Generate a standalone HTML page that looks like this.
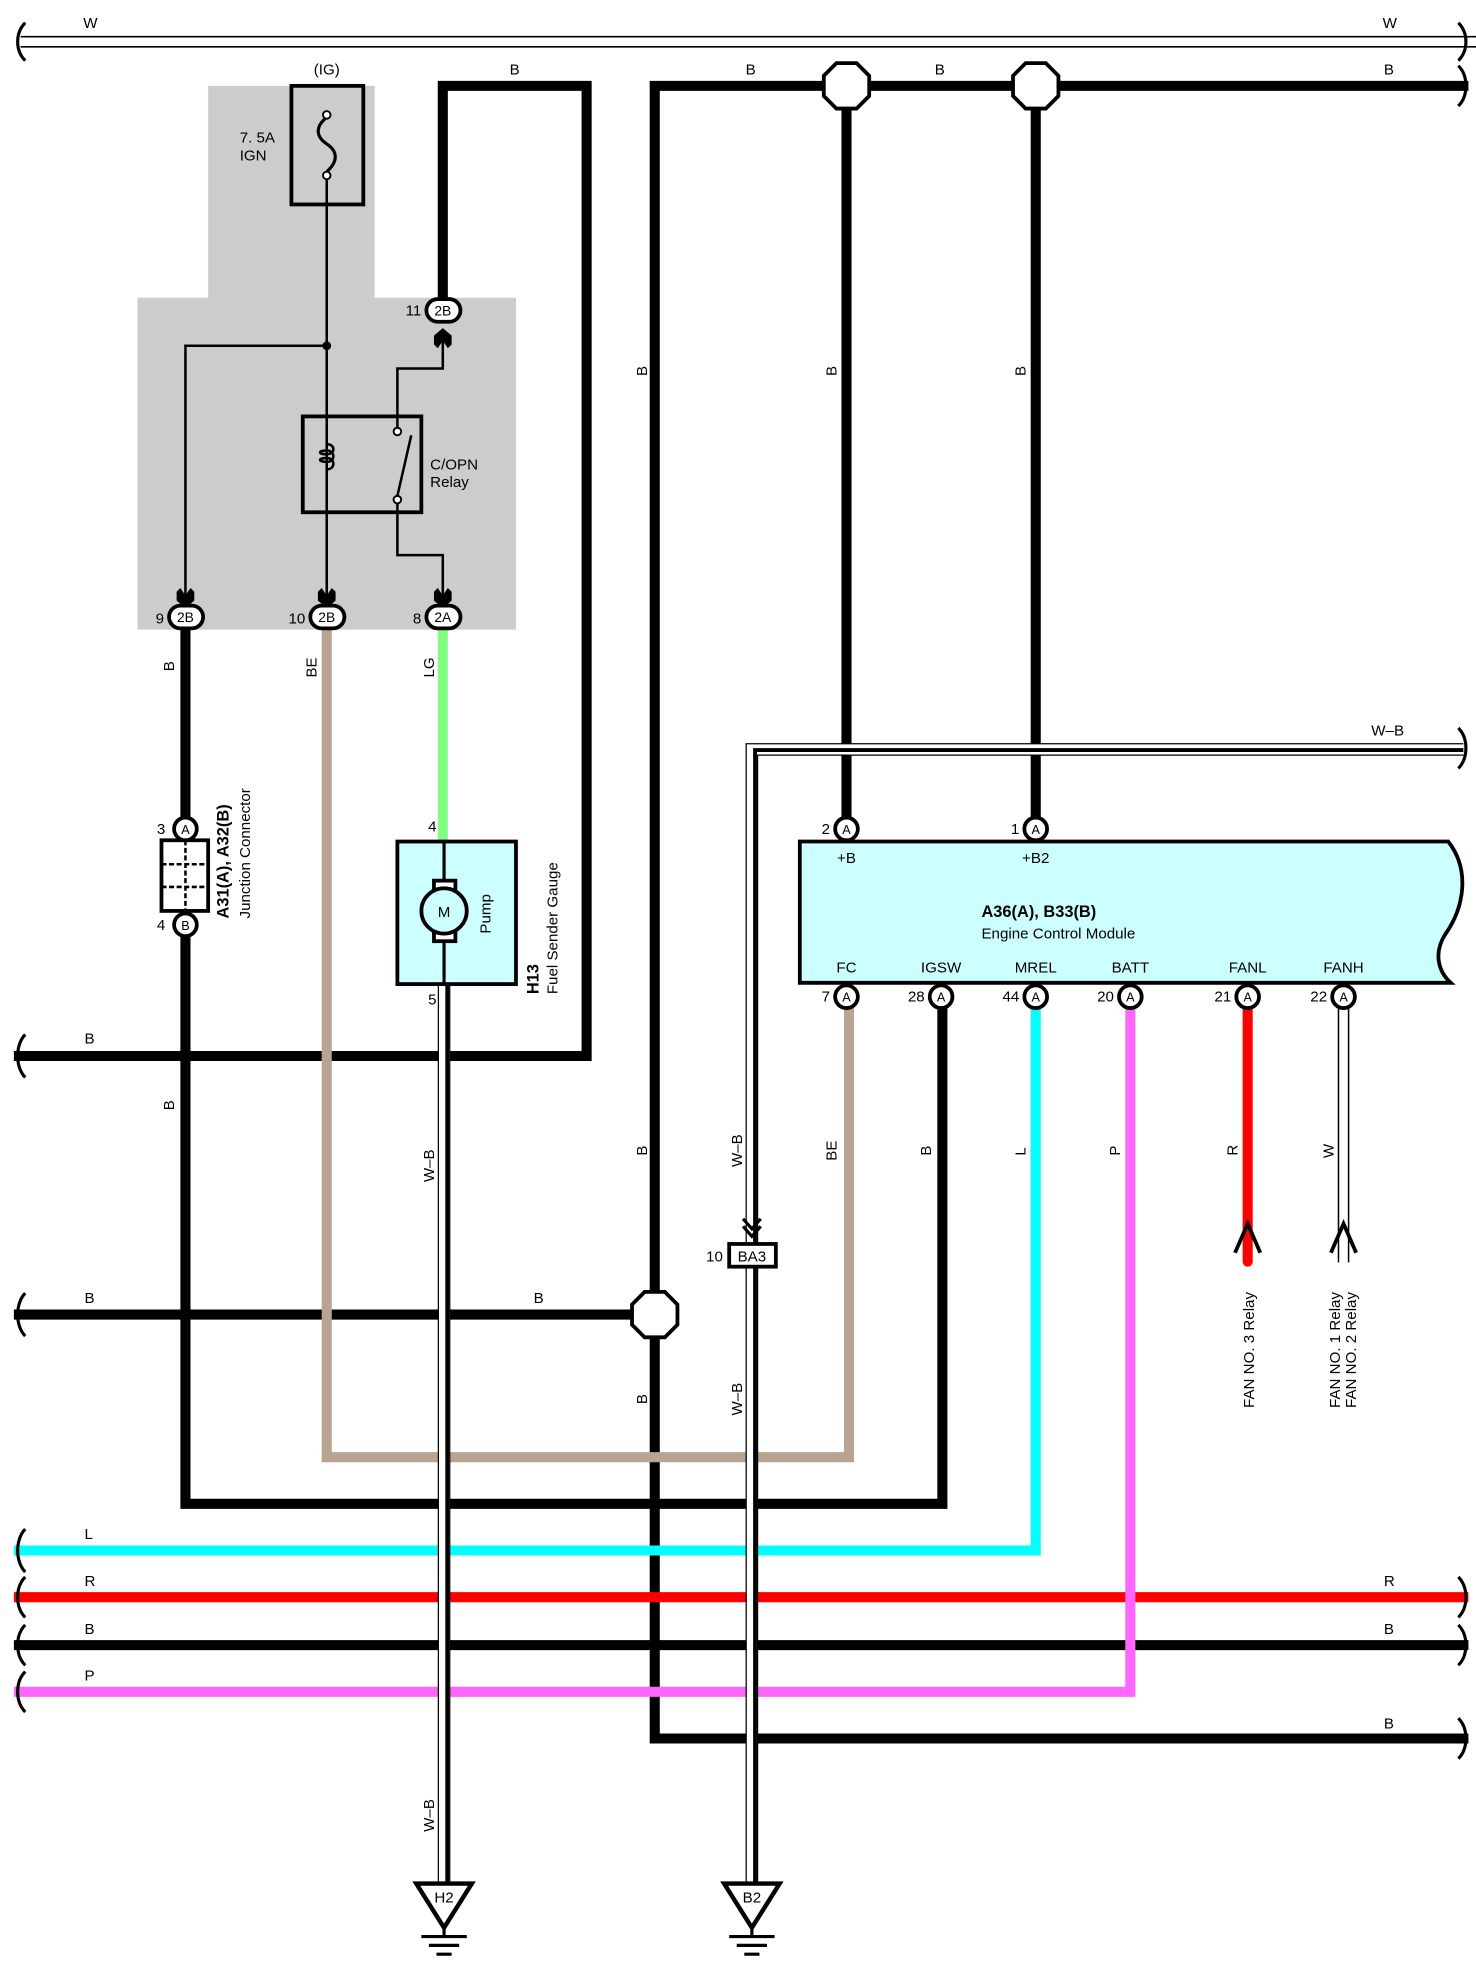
<!DOCTYPE html>
<html><head><meta charset="utf-8"><style>
html,body{margin:0;padding:0;background:#fff}
svg{display:block}
text{font-family:"Liberation Sans",sans-serif;fill:#000}
</style></head><body>
<svg width="1476" height="1977" viewBox="0 0 1170 1567" xmlns="http://www.w3.org/2000/svg">
<rect width="1170" height="1567" fill="#fff"/>
<!-- gray relay block -->
<path d="M165 68H297V236H409V499H109V236H165Z" fill="#cccccc"/>

<g fill="none" stroke-linejoin="miter" stroke-linecap="square">
<!-- top W -->
<line x1="17" y1="29" x2="1170" y2="29" stroke="#000" stroke-width="1.3"/>
<line x1="17" y1="37" x2="1170" y2="37" stroke="#000" stroke-width="1.3"/>
<!-- B loop from 11 -->
<path d="M351 240V68H465V837H15" stroke="#000" stroke-width="8"/>
<!-- big B main -->
<path d="M1160 68H519V1378H1160" stroke="#000" stroke-width="8"/>
<path d="M671 68V650M821 68V650" stroke="#000" stroke-width="8"/>
<path d="M15 1042H519" stroke="#000" stroke-width="8"/>
<!-- B from 9 -->
<path d="M147 495V650M147 740V1192H747V798" stroke="#000" stroke-width="8"/>
<!-- BE -->
<path d="M259 495V1155H673V798" stroke="#b8a490" stroke-width="8"/>
<!-- LG -->
<path d="M351 495V664" stroke="#80ff80" stroke-width="8"/>
<!-- L -->
<path d="M821 798V1229H15" stroke="#00ffff" stroke-width="8"/>
<!-- R -->
<path d="M989 798V1000" stroke="#ff0000" stroke-width="8" stroke-linecap="round"/>
<path d="M15 1266H1160" stroke="#ff0000" stroke-width="8"/>
<!-- B bottom -->
<path d="M15 1304H1160" stroke="#000" stroke-width="8"/>
<!-- P -->
<path d="M15 1341H896V798" stroke="#ff66ff" stroke-width="8"/>
<!-- W FANH -->
<path d="M1061 800V1000M1069 800V1000" stroke="#000" stroke-width="1.2"/>
<!-- W-B pump -->
<path d="M352 780V1492" stroke="#000" stroke-width="10" stroke-linecap="butt"/>
<path d="M352 780V1492" stroke="#fff" stroke-width="8" stroke-linecap="butt"/>
<path d="M354.5 780V1492" stroke="#000" stroke-width="3" stroke-linecap="butt"/>
<!-- W-B ECM ground -->
<path d="M1160 594H596V1492" stroke="#000" stroke-width="10" stroke-linecap="butt"/>
<path d="M1160 594H596V1492" stroke="#fff" stroke-width="8" stroke-linecap="butt"/>
<path d="M1160 594.5H598.5V1492" stroke="#000" stroke-width="3" stroke-linecap="butt"/>
</g>
<!-- braces -->
<g fill="none" stroke="#000" stroke-width="2.5">
<path d="M20 18C12 26 12 40 20 48"/>
<path d="M20 820C12 828 12 846 20 854"/>
<path d="M20 1025C12 1033 12 1051 20 1059"/>
<path d="M20 1212C12 1220 12 1238 20 1246"/>
<path d="M20 1250C12 1258 12 1274 20 1282"/>
<path d="M20 1288C12 1296 12 1312 20 1320"/>
<path d="M20 1325C12 1333 12 1349 20 1357"/>
<path d="M1156 18C1164 26 1164 40 1156 48"/>
<path d="M1156 52C1164 60 1164 76 1156 84"/>
<path d="M1156 577C1164 585 1164 601 1156 609"/>
<path d="M1156 1250C1164 1258 1164 1274 1156 1282"/>
<path d="M1156 1288C1164 1296 1164 1312 1156 1320"/>
<path d="M1156 1362C1164 1370 1164 1386 1156 1394"/>
</g>
<!-- octagons -->
<g fill="#fff" stroke="#000" stroke-width="3">
<polygon points="663,50 679,50 689,60 689,76 679,86 663,86 653,76 653,60"/>
<polygon points="813,50 829,50 839,60 839,76 829,86 813,86 803,76 803,60"/>
<polygon points="511,1024 527,1024 537,1034 537,1050 527,1060 511,1060 501,1050 501,1034"/>
</g>
<!-- fuse -->
<rect x="231" y="68" width="57" height="94" fill="none" stroke="#000" stroke-width="3"/>
<path d="M259 93C250 100 250 108 259 114C268 120 268 128 259 136" fill="none" stroke="#000" stroke-width="2.5"/>
<circle cx="259" cy="91" r="3" fill="#fff" stroke="#000" stroke-width="1.5"/>
<circle cx="259" cy="139" r="3" fill="#fff" stroke="#000" stroke-width="1.5"/>
<!-- relay internal lines -->
<g fill="none" stroke="#000" stroke-width="2">
<path d="M259 142V480"/>
<path d="M259 274H147V480"/>
<path d="M315 342V292H351V268"/>
<path d="M315 393V440H351V480"/>
<path d="M315 393L326 345"/>
</g>
<circle cx="259" cy="274" r="3.5" fill="#000"/>
<rect x="240" y="330" width="94" height="76" fill="none" stroke="#000" stroke-width="3"/>
<path d="M259 352C266 352 266 360 259 360C252 360 252 357 259 357C266 357 266 366 259 366C252 366 252 363 259 363C266 363 266 372 259 372" fill="none" stroke="#000" stroke-width="2"/>
<circle cx="315" cy="342" r="3" fill="#fff" stroke="#000" stroke-width="1.5"/>
<circle cx="315" cy="396" r="3" fill="#fff" stroke="#000" stroke-width="1.5"/>
<!-- arrowheads relay -->
<g fill="#000">
<path d="M143 466L147 472L151 466L154 469V476L147 482L140 476V469Z"/>
<path d="M255 466L259 472L263 466L266 469V476L259 482L252 476V469Z"/>
<path d="M347 466L351 472L355 466L358 469V476L351 482L344 476V469Z"/>
<path d="M347 276L351 270L355 276L358 273V266L351 260L344 266V273Z"/>
</g>
<!-- oval connectors -->
<g fill="#fff" stroke="#000" stroke-width="3">
<rect x="338" y="237" width="27" height="18" rx="9"/>
<rect x="134" y="480" width="27" height="18" rx="9"/>
<rect x="246" y="480" width="27" height="18" rx="9"/>
<rect x="338" y="480" width="27" height="18" rx="9"/>
</g>
<g font-size="11" text-anchor="middle">
<text x="351" y="250">2B</text><text x="147" y="493">2B</text><text x="259" y="493">2B</text><text x="351" y="493">2A</text>
</g>
<g font-size="12" text-anchor="end">
<text x="334" y="250">11</text><text x="130" y="494">9</text><text x="242" y="494">10</text><text x="334" y="494">8</text>
</g>
<text x="259" y="59" font-size="12" text-anchor="middle">(IG)</text>
<text x="190" y="113" font-size="12">7. 5A</text>
<text x="190" y="127" font-size="12">IGN</text>
<text x="341" y="372" font-size="12">C/OPN</text>
<text x="341" y="386" font-size="12">Relay</text>
<!-- junction connector -->
<rect x="128" y="666" width="37" height="56" fill="#fff" stroke="#000" stroke-width="3"/>
<path d="M147 666V722M128 685H165M128 703H165" stroke="#000" stroke-width="2" stroke-dasharray="4 2"/>
<circle cx="147" cy="657" r="9" fill="#fff" stroke="#000" stroke-width="3"/>
<circle cx="147" cy="733" r="9" fill="#fff" stroke="#000" stroke-width="3"/>
<text x="147" y="661" font-size="10" text-anchor="middle">A</text>
<text x="147" y="737" font-size="10" text-anchor="middle">B</text>
<text x="131" y="661" font-size="12" text-anchor="end">3</text>
<text x="131" y="737" font-size="12" text-anchor="end">4</text>
<text transform="translate(181,728) rotate(-90)" font-size="13" font-weight="bold">A31(A), A32(B)</text>
<text transform="translate(198,728) rotate(-90)" font-size="12">Junction Connector</text>
<!-- pump -->
<rect x="315" y="667" width="94" height="113" fill="#ccffff" stroke="#000" stroke-width="3"/>
<path d="M352 667V780" stroke="#000" stroke-width="2.5"/>
<rect x="344" y="698" width="17" height="48" fill="#fff" stroke="#000" stroke-width="3"/>
<circle cx="352" cy="722" r="18" fill="#ccffff" stroke="#000" stroke-width="3"/>
<text x="352" y="727" font-size="12" text-anchor="middle">M</text>
<text transform="translate(389,740) rotate(-90)" font-size="12">Pump</text>
<text transform="translate(427,788) rotate(-90)" font-size="13" font-weight="bold">H13</text>
<text transform="translate(442,788) rotate(-90)" font-size="12">Fuel Sender Gauge</text>
<text x="346" y="659" font-size="12" text-anchor="end">4</text>
<text x="346" y="796" font-size="12" text-anchor="end">5</text>
<!-- ECM -->
<path d="M634 667H1148C1166 690 1160 720 1146 740C1136 755 1140 770 1150 779H634Z" fill="#ccffff" stroke="#000" stroke-width="3"/>
<g fill="#fff" stroke="#000" stroke-width="3">
<circle cx="671" cy="657" r="9"/><circle cx="821" cy="657" r="9"/>
<circle cx="671" cy="790" r="9"/><circle cx="746" cy="790" r="9"/><circle cx="821" cy="790" r="9"/>
<circle cx="896" cy="790" r="9"/><circle cx="989" cy="790" r="9"/><circle cx="1065" cy="790" r="9"/>
</g>
<g font-size="10" text-anchor="middle">
<text x="671" y="661">A</text><text x="821" y="661">A</text><text x="671" y="794">A</text><text x="746" y="794">A</text>
<text x="821" y="794">A</text><text x="896" y="794">A</text><text x="989" y="794">A</text><text x="1065" y="794">A</text>
</g>
<g font-size="12" text-anchor="end">
<text x="658" y="661">2</text><text x="808" y="661">1</text><text x="658" y="794">7</text><text x="733" y="794">28</text>
<text x="808" y="794">44</text><text x="883" y="794">20</text><text x="976" y="794">21</text><text x="1052" y="794">22</text>
</g>
<g font-size="12" text-anchor="middle">
<text x="671" y="684">+B</text><text x="821" y="684">+B2</text>
<text x="671" y="771">FC</text><text x="746" y="771">IGSW</text><text x="821" y="771">MREL</text>
<text x="896" y="771">BATT</text><text x="989" y="771">FANL</text><text x="1065" y="771">FANH</text>
</g>
<text x="778" y="727" font-size="13" font-weight="bold">A36(A), B33(B)</text>
<text x="778" y="744" font-size="12">Engine Control Module</text>
<!-- fan arrows -->
<path d="M979 993L989 970L999 993" fill="none" stroke="#000" stroke-width="3"/>
<path d="M1055 993L1065 970L1075 993" fill="none" stroke="#000" stroke-width="3"/>
<text transform="translate(994,1116) rotate(-90)" font-size="12">FAN NO. 3 Relay</text>
<text transform="translate(1062,1116) rotate(-90)" font-size="12">FAN NO. 1 Relay</text>
<text transform="translate(1075,1116) rotate(-90)" font-size="12">FAN NO. 2 Relay</text>
<!-- BA3 -->
<path d="M589 966L596 974L603 966M589 972L596 980L603 972" fill="none" stroke="#000" stroke-width="2.5"/>
<rect x="578" y="986" width="37" height="18" fill="#fff" stroke="#000" stroke-width="3"/>
<text x="596" y="1000" font-size="12" text-anchor="middle">BA3</text>
<text x="573" y="1000" font-size="12" text-anchor="end">10</text>
<!-- grounds -->
<g stroke="#000" fill="#fff" stroke-width="3.5">
<path d="M330 1493H374L352 1528Z"/>
<path d="M574 1493H618L596 1528Z"/>
</g>
<g stroke="#000" stroke-width="2.5">
<path d="M352 1528V1535M334 1535H370M340 1542H364M346 1549H358"/>
<path d="M596 1528V1535M578 1535H614M584 1542H608M590 1549H602"/>
</g>
<text x="352" y="1508" font-size="12" text-anchor="middle">H2</text>
<text x="596" y="1508" font-size="12" text-anchor="middle">B2</text>
<!-- wire labels -->
<g font-size="12">
<text x="66" y="22">W</text><text x="1096" y="22">W</text>
<text x="404" y="59">B</text><text x="591" y="59">B</text><text x="741" y="59">B</text><text x="1097" y="59">B</text>
<text x="1087" y="583">W–B</text>
<text x="67" y="827">B</text><text x="67" y="1033">B</text><text x="423" y="1033">B</text>
<text x="67" y="1220">L</text><text x="67" y="1257">R</text><text x="1097" y="1257">R</text>
<text x="67" y="1295">B</text><text x="1097" y="1295">B</text><text x="67" y="1332">P</text><text x="1097" y="1370">B</text>
</g>
<g font-size="12">
<text transform="translate(138,532) rotate(-90)">B</text>
<text transform="translate(251,537) rotate(-90)">BE</text>
<text transform="translate(344,537) rotate(-90)">LG</text>
<text transform="translate(138,880) rotate(-90)">B</text>
<text transform="translate(344,937) rotate(-90)">W–B</text>
<text transform="translate(344,1452) rotate(-90)">W–B</text>
<text transform="translate(513,298) rotate(-90)">B</text>
<text transform="translate(663,298) rotate(-90)">B</text>
<text transform="translate(813,298) rotate(-90)">B</text>
<text transform="translate(513,916) rotate(-90)">B</text>
<text transform="translate(513,1113) rotate(-90)">B</text>
<text transform="translate(588,925) rotate(-90)">W–B</text>
<text transform="translate(588,1122) rotate(-90)">W–B</text>
<text transform="translate(663,920) rotate(-90)">BE</text>
<text transform="translate(738,916) rotate(-90)">B</text>
<text transform="translate(813,916) rotate(-90)">L</text>
<text transform="translate(888,916) rotate(-90)">P</text>
<text transform="translate(981,916) rotate(-90)">R</text>
<text transform="translate(1057,918) rotate(-90)">W</text>
</g>
</svg>
</body></html>
